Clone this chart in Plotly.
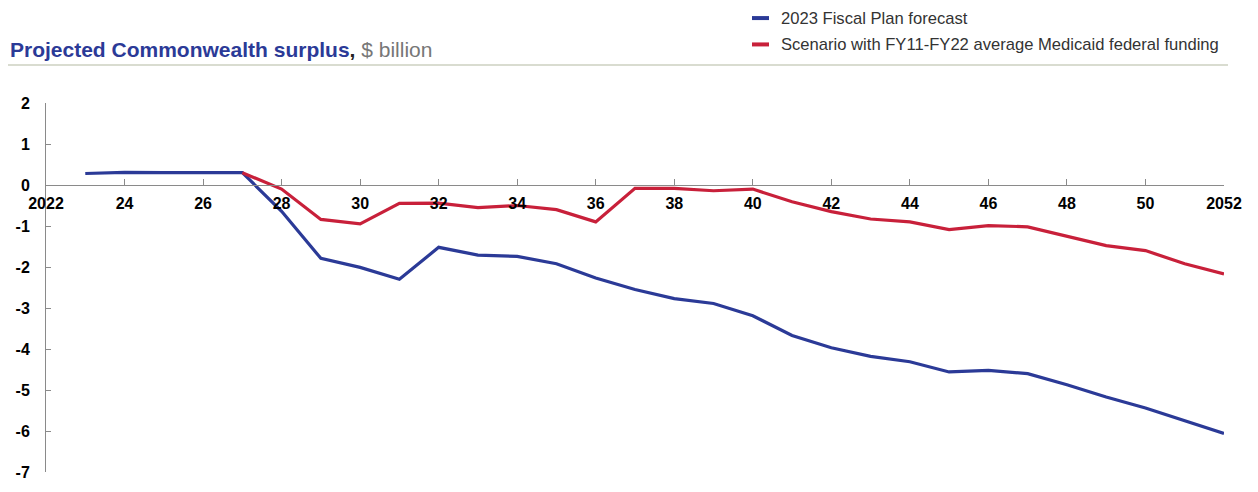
import plotly.graph_objects as go

# Fiscal years (FY2023 .. FY2052)
years = list(range(2023, 2053))

# Projected Commonwealth surplus, $ billion
fiscal_plan = [0.28, 0.31, 0.30, 0.30, 0.30, -0.64, -1.79, -2.01, -2.30, -1.52,
               -1.71, -1.74, -1.92, -2.27, -2.55, -2.77, -2.89, -3.19, -3.67, -3.97,
               -4.18, -4.31, -4.56, -4.52, -4.60, -4.87, -5.17, -5.44, -5.75, -6.06]

scenario_years = list(range(2027, 2053))
scenario = [0.30, -0.10, -0.84, -0.95, -0.45, -0.44, -0.55, -0.50, -0.60, -0.90,
            -0.08, -0.08, -0.14, -0.10, -0.41, -0.65, -0.83, -0.90, -1.09, -0.99,
            -1.02, -1.26, -1.48, -1.60, -1.92, -2.17]

series_names = ["2023 Fiscal Plan forecast",
                "Scenario with FY11-FY22 average Medicaid federal funding"]

x_tick_vals = list(range(2022, 2053, 2))
x_tick_text = ["2022"] + [str(v)[2:] for v in x_tick_vals[1:-1]] + ["2052"]
y_tick_vals = list(range(-7, 3))
y_tick_text = [str(v) for v in y_tick_vals]  # plain hyphen for negatives

BLUE = "#2B3A97"
RED = "#C8203A"
AXIS_GREY = "#8a8a8a"
FONT = "Liberation Sans, Arial, sans-serif"

W, H = 1258, 492
L, R, T, B = 46, 34, 103, 11
PW, PH = W - L - R, H - T - B


def px(x):
    return (x - L) / PW


def py(y):
    return (H - B - y) / PH


fig = go.Figure()
fig.add_trace(go.Scatter(x=years, y=fiscal_plan, mode="lines", name=series_names[0],
                         line=dict(color=BLUE, width=3.2), showlegend=False))
fig.add_trace(go.Scatter(x=scenario_years, y=scenario, mode="lines", name=series_names[1],
                         line=dict(color=RED, width=3.2), showlegend=False))

y_min, y_max = -7, 2
zero_pos = (0 - y_min) / (y_max - y_min)

fig.update_layout(
    width=W, height=H,
    margin=dict(l=L, r=R, t=T, b=B, pad=0),
    paper_bgcolor="white", plot_bgcolor="white",
    font=dict(family=FONT, color="black"),
    xaxis=dict(range=[2022, 2052], tickvals=x_tick_vals, ticktext=x_tick_text,
               anchor="free", position=zero_pos, side="bottom",
               showline=True, linecolor=AXIS_GREY, linewidth=1,
               ticks="inside", ticklen=6, tickcolor=AXIS_GREY, tickwidth=1,
               showgrid=False, zeroline=False, ticklabelstandoff=4,
               tickfont=dict(family=FONT, size=16, color="black", weight="bold")),
    yaxis=dict(range=[y_min, y_max], tickvals=y_tick_vals, ticktext=y_tick_text,
               showline=True, linecolor=AXIS_GREY, linewidth=1,
               ticks="inside", ticklen=5, tickcolor=AXIS_GREY, tickwidth=1,
               showgrid=False, zeroline=False, ticklabelstandoff=12,
               tickfont=dict(family=FONT, size=16, color="black", weight="bold")),
)

# Chart title with unit
fig.add_annotation(
    xref="paper", yref="paper", x=px(8), y=py(48), xanchor="left", yanchor="middle",
    showarrow=False,
    text=("<b><span style='color:%s'>Projected Commonwealth surplus</span>,</b>"
          "<span style='color:#777777'> $ billion</span>") % BLUE,
    font=dict(family=FONT, size=21, color="#222222"),
)

# Rule under the title
fig.add_shape(type="line", xref="paper", yref="paper",
              x0=px(8), x1=px(1228), y0=py(64), y1=py(64),
              line=dict(color="#d9dcd0", width=2))

# Legend
for name, color, ypix in [(series_names[0], BLUE, 16), (series_names[1], RED, 43)]:
    fig.add_shape(type="line", xref="paper", yref="paper",
                  x0=px(752), x1=px(769), y0=py(ypix), y1=py(ypix),
                  line=dict(color=color, width=4))
    fig.add_annotation(xref="paper", yref="paper", x=px(779), y=py(ypix),
                       xanchor="left", yanchor="middle", showarrow=False,
                       text=name, font=dict(family=FONT, size=16.6, color="#333333"))

fig.write_html("out.html")
